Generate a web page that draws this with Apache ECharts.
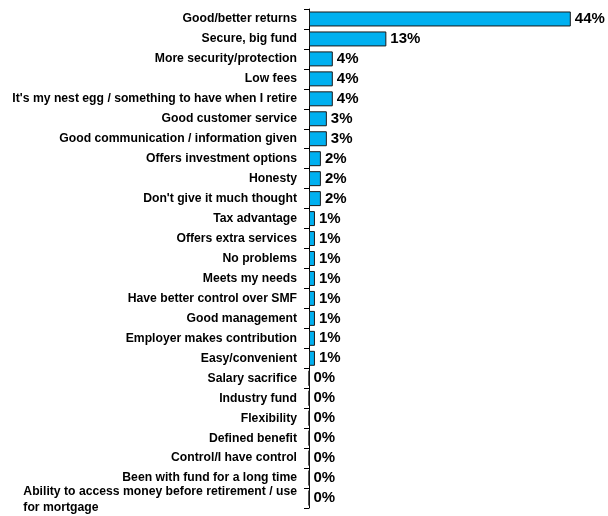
<!DOCTYPE html>
<html>
<head>
<meta charset="utf-8">
<script src="https://cdn.jsdelivr.net/npm/echarts@6/dist/echarts.min.js"></script>
<style>
  html, body { margin: 0; padding: 0; background: #ffffff; }
  #chart { width: 608px; height: 516px; }
</style>
</head>
<body>
<div id="chart"></div>
<script>
// Reasons given for choosing the fund (% of respondents)
const categories = [
  "Good/better returns",
  "Secure, big fund",
  "More security/protection",
  "Low fees",
  "It's my nest egg / something to have when I retire",
  "Good customer service",
  "Good communication / information given",
  "Offers investment options",
  "Honesty",
  "Don't give it much thought",
  "Tax advantage",
  "Offers extra services",
  "No problems",
  "Meets my needs",
  "Have better control over SMF",
  "Good management",
  "Employer makes contribution",
  "Easy/convenient",
  "Salary sacrifice",
  "Industry fund",
  "Flexibility",
  "Defined benefit",
  "Control/I have control",
  "Been with fund for a long time",
  "Ability to access money before retirement / use\nfor mortgage"
];
const values = [44, 13, 4, 4, 4, 3, 3, 2, 2, 2, 1, 1, 1, 1, 1, 1, 1, 1, 0, 0, 0, 0, 0, 0, 0];

const FONT = '"Liberation Sans", Arial, Helvetica, sans-serif';
const LABEL_SIZE = 12.2;

const chart = echarts.init(document.getElementById('chart'), null, { renderer: 'canvas' });
chart.setOption({
  animation: false,
  grid: { left: 309, top: 9, bottom: 8, width: 297.5, containLabel: false },
  xAxis: {
    type: 'value',
    min: 0,
    max: 50,
    show: false
  },
  yAxis: {
    type: 'category',
    inverse: true,
    data: categories,
    axisLine: { show: true, lineStyle: { color: '#000', width: 1 } },
    axisTick: { show: true, inside: false, length: 5, lineStyle: { color: '#000', width: 1 } },
    splitLine: { show: false },
    axisLabel: {
      interval: 0,
      hideOverlap: false,
      margin: 12,
      color: '#000',
      fontFamily: FONT,
      fontWeight: 'bold',
      fontSize: LABEL_SIZE,
      formatter: function (v) {
        // wrapped labels: lines left-aligned within the block
        if (v.indexOf('\n') >= 0) {
          const parts = v.split('\n');
          return '{a|' + parts[0] + '}\n{b|' + parts[1] + '}';
        }
        return v;
      },
      rich: {
        a: { align: 'left', color: '#000', fontFamily: FONT, fontWeight: 'bold', fontSize: LABEL_SIZE, lineHeight: 20 },
        b: { align: 'left', color: '#000', fontFamily: FONT, fontWeight: 'bold', fontSize: LABEL_SIZE, lineHeight: 12 }
      }
    }
  },
  series: [{
    type: 'bar',
    data: values,
    barCategoryGap: '25%',
    itemStyle: { color: '#00B0F0', borderColor: '#1a1a1a', borderWidth: 1 },
    label: {
      show: true,
      position: 'right',
      distance: 4,
      formatter: '{v|{c}%}',
      rich: {
        v: { color: '#000', fontFamily: FONT, fontWeight: 'bold', fontSize: 15 }
      }
    }
  }]
});
</script>
</body>
</html>
